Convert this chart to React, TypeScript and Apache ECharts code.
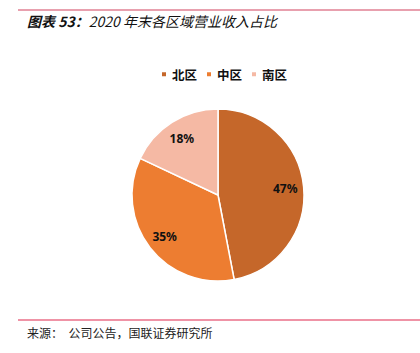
import React, { useEffect, useRef } from "react";
import * as echarts from "echarts";

const categories = ["北区", "中区", "南区"];
const values = [47, 35, 18];
const colors = ["#C5672A", "#ED7D31", "#F5B9A4"];

export default function App() {
  const ref = useRef<HTMLDivElement>(null);
  useEffect(() => {
    const chart = echarts.init(ref.current!, null, { renderer: "svg" });
    const data = categories.map((name, i) => ({ name, value: values[i] }));
    chart.setOption({
      animation: false,
      color: colors,
      legend: {
        data: categories,
        top: 63,
        left: 155,
        icon: "rect",
        itemWidth: 6,
        itemHeight: 6,
        itemGap: 8,
        textStyle: { fontSize: 12.5, fontWeight: "bold", color: "#111", fontFamily: "Noto Sans CJK SC" },
      },
      graphic: [
        { type: "line", shape: { x1: 18, y1: 10, x2: 420, y2: 10 }, style: { stroke: "#E8A0AE", lineWidth: 2 } },
        { type: "line", shape: { x1: 18, y1: 320, x2: 420, y2: 320 }, style: { stroke: "#E0284F", lineWidth: 1.2 } },
        {
          type: "text", left: 27, top: 14,
          style: {
            text: "{b|图表 53：}{n|2020 年末各区域营业收入占比}",
            rich: {
              b: { fontSize: 14, fontStyle: "italic", fontWeight: "bold", fill: "#111", fontFamily: "Noto Sans CJK SC" },
              n: { fontSize: 14, fontStyle: "italic", fontWeight: "normal", fill: "#111", fontFamily: "Noto Sans CJK SC" },
            },
          },
        },
        {
          type: "text", left: 27, top: 326,
          style: { text: "来源：  公司公告，国联证券研究所", fontSize: 12, fill: "#222", fontFamily: "Noto Sans CJK SC" },
        },
      ],
      series: [
        {
          type: "pie",
          center: [218, 195],
          radius: [0, 86],
          startAngle: 90,
          clockwise: true,
          data,
          label: { show: false },
          labelLine: { show: false },
          itemStyle: { borderColor: "#fff", borderWidth: 1.5 },
          emphasis: { disabled: true },
        },
        {
          type: "pie",
          center: [218, 195],
          radius: [43, 86],
          startAngle: 90,
          clockwise: true,
          data,
          silent: true,
          legendHoverLink: false,
          itemStyle: { color: "transparent", borderWidth: 0 },
          label: {
            show: true,
            position: "inside",
            formatter: "{c}%",
            fontSize: 12,
            fontWeight: "bold",
            color: "#111",
            fontFamily: "Noto Sans",
          },
          labelLine: { show: false },
          emphasis: { disabled: true },
        },
      ],
    });
    return () => chart.dispose();
  }, []);
  return <div ref={ref} style={{ position: "absolute", left: 0, top: 0, width: 420, height: 353 }} />;
}
